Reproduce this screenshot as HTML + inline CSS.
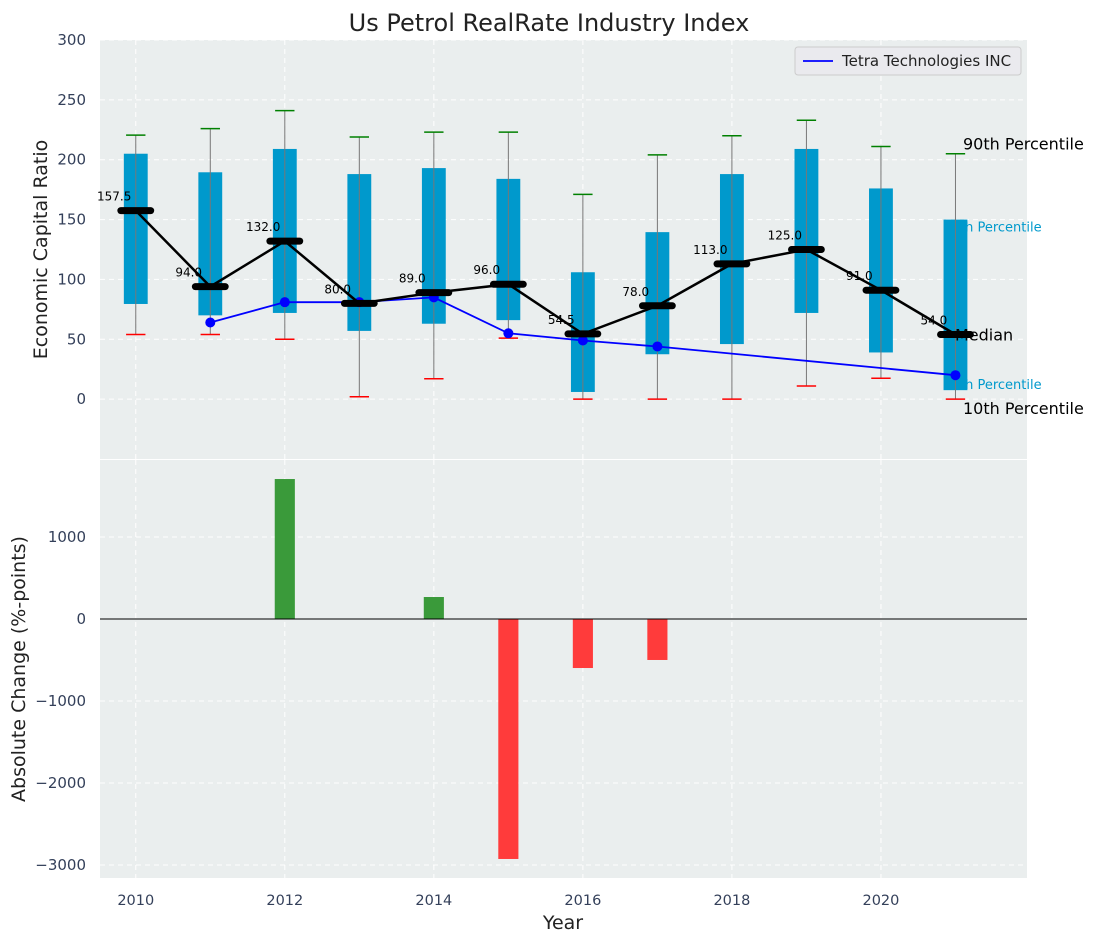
<!DOCTYPE html>
<html><head><meta charset="utf-8">
<style>
body{margin:0;background:#fff;font-family:"Liberation Sans","DejaVu Sans",sans-serif;}
svg text{font-family:"DejaVu Sans","Liberation Sans",sans-serif;}
</style></head>
<body>
<svg id="chart" width="1098" height="942" xmlns="http://www.w3.org/2000/svg">
<text x="549" y="31" text-anchor="middle" font-size="24" fill="#222">Us Petrol RealRate Industry Index</text>
<g id="topPanel"></g>
<g id="botPanel"></g>
</svg>
<script>
const years=[2010,2011,2012,2013,2014,2015,2016,2017,2018,2019,2020,2021];
const p10=[54,54,50,2,17,51,0,0,0,11,17.5,0];
const q1=[79.5,70,72,57,63,66,6,37.5,46,72,39,7.5];
const medians=[157.5,94,132,80,89,96,54.5,78,113,125,91,54];
const q3=[205,189.5,209,188,193,184,106,139.5,188,209,176,150];
const p90=[220.5,226,241,219,223,223,171,204,220,233,211,205];
const tetraYears=[2011,2012,2013,2014,2015,2016,2017,2021];
const tetraVals=[64,81,81,85,55,49,44,20];
const changeYears=[2012,2014,2015,2016,2017];
const changeVals=[1707,268,-2927,-598,-500];
const topTicks=[0,50,100,150,200,250,300];
const botTicks=[-3000,-2000,-1000,0,1000];
const xTicks=[2010,2012,2014,2016,2018,2020];

const NS="http://www.w3.org/2000/svg";
function mk(parent,tag,attrs,text){const e=document.createElementNS(NS,tag);for(const k in attrs)e.setAttribute(k,attrs[k]);if(text!==undefined)e.textContent=text;parent.appendChild(e);return e;}
const L=100,R=1027,X0=2009.52,X1=2021.96;
const x=v=>L+(v-X0)/(X1-X0)*(R-L);
const T0=40,T1=459,TY0=-50,TY1=300;
const yt=v=>T1-(v-TY0)/(TY1-TY0)*(T1-T0);
const B0=460,B1=878,BY0=-3159,BY1=1939;
const yb=v=>B1-(v-BY0)/(BY1-BY0)*(B1-B0);
const topG=document.getElementById('topPanel'),botG=document.getElementById('botPanel');
const tick='#34405a';
let e;

e=mk(topG,'rect',{x:L,y:T0,width:R-L,height:T1-T0,fill:'#eaeeee'});


e=mk(botG,'rect',{x:L,y:B0,width:R-L,height:B1-B0,fill:'#eaeeee'});


xTicks.forEach(t=>{
 mk(topG,'line',{x1:x(t),x2:x(t),y1:T0,y2:T1,stroke:'#fff','stroke-dasharray':'5,4'});
 mk(botG,'line',{x1:x(t),x2:x(t),y1:B0,y2:B1,stroke:'#fff','stroke-dasharray':'5,4'});
 e=mk(botG,'text',{x:x(t),y:905,'text-anchor':'middle','font-size':14.5,fill:tick},t);
 
 
});
topTicks.forEach(t=>{
 mk(topG,'line',{x1:L,x2:R,y1:yt(t),y2:yt(t),stroke:'#fff','stroke-dasharray':'5,4'});
 e=mk(topG,'text',{x:86,y:yt(t)+5,'text-anchor':'end','font-size':15,fill:tick},t);
 
 
});
botTicks.forEach(t=>{
 mk(botG,'line',{x1:L,x2:R,y1:yb(t),y2:yb(t),stroke:'#fff','stroke-dasharray':'5,4'});
 e=mk(botG,'text',{x:86,y:yb(t)+5,'text-anchor':'end','font-size':15,fill:tick},String(t).replace('-','\u2212'));
 
 
});
const last=years.length-1;
e=mk(topG,'text',{x:x(years[last])-12,y:yt(q3[last])+12,'font-size':13,fill:'#0099cc'},'75th Percentile');


e=mk(topG,'text',{x:x(years[last])-12,y:yt(q1[last])-1,'font-size':13,fill:'#0099cc'},'25th Percentile');


years.forEach((yr,i)=>{
 const w=x(yr+0.16)-x(yr-0.16);
 e=mk(topG,'rect',{x:x(yr-0.16),y:yt(q3[i]),width:w,height:yt(q1[i])-yt(q3[i]),fill:'#0099cc'});
 
 
 mk(topG,'line',{x1:x(yr),x2:x(yr),y1:yt(p90[i]),y2:yt(p10[i]),stroke:'#777','stroke-width':1});
 mk(topG,'line',{x1:x(yr-0.13),x2:x(yr+0.13),y1:yt(p90[i]),y2:yt(p90[i]),stroke:'green','stroke-width':1.5});
 mk(topG,'line',{x1:x(yr-0.13),x2:x(yr+0.13),y1:yt(p10[i]),y2:yt(p10[i]),stroke:'red','stroke-width':1.5});
});
let pts=tetraYears.map((yr,i)=>x(yr)+','+yt(tetraVals[i])).join(' ');
e=mk(topG,'polyline',{points:pts,fill:'none',stroke:'blue','stroke-width':1.8});


tetraYears.forEach((yr,i)=>{e=mk(topG,'circle',{cx:x(yr),cy:yt(tetraVals[i]),r:5,fill:'blue'});
 
 });
pts=years.map((yr,i)=>x(yr)+','+yt(medians[i])).join(' ');
e=mk(topG,'polyline',{points:pts,fill:'none',stroke:'#000','stroke-width':2.5});


years.forEach((yr,i)=>{
 e=mk(topG,'line',{x1:x(yr-0.2),x2:x(yr+0.2),y1:yt(medians[i]),y2:yt(medians[i]),stroke:'#000','stroke-width':7,'stroke-linecap':'round'});
 
 
 e=mk(topG,'text',{x:x(yr-0.29),y:yt(medians[i])-10,'text-anchor':'middle','font-size':12,fill:'#000'},medians[i].toFixed(1));
 
 
});
e=mk(topG,'text',{x:963,y:yt(p90[last])-4,'font-size':16,fill:'#000'},'90th Percentile');


e=mk(topG,'text',{x:955,y:yt(medians[last])+6,'font-size':16,fill:'#000'},'Median');


e=mk(topG,'text',{x:963,y:yt(p10[last])+15,'font-size':16,fill:'#000'},'10th Percentile');


const lg=mk(topG,'g',{});


mk(lg,'rect',{x:795,y:47,width:226,height:28,rx:3,fill:'#eaeaee',stroke:'#ccc'});
mk(lg,'line',{x1:803,x2:833,y1:61,y2:61,stroke:'blue','stroke-width':1.8});
mk(lg,'text',{x:842,y:66,'font-size':15,fill:'#222'},'Tetra Technologies INC');
changeYears.forEach((yr,i)=>{
 const v=changeVals[i];
 e=mk(botG,'rect',{x:x(yr-0.135),width:x(yr+0.135)-x(yr-0.135),y:Math.min(yb(v),yb(0)),height:Math.abs(yb(v)-yb(0)),fill:v>=0?'#3a9a3a':'#ff3b3b'});
 
 
});
mk(botG,'line',{x1:L,x2:R,y1:yb(0),y2:yb(0),stroke:'#000','stroke-width':1});
e=mk(topG,'text',{x:0,y:0,transform:'translate(47,'+((T0+T1)/2)+') rotate(-90)','text-anchor':'middle','font-size':19,fill:'#222'},'Economic Capital Ratio');


e=mk(botG,'text',{x:0,y:0,transform:'translate(25,'+((B0+B1)/2)+') rotate(-90)','text-anchor':'middle','font-size':19,fill:'#222'},'Absolute Change (%-points)');


e=mk(botG,'text',{x:563,y:929,'text-anchor':'middle','font-size':19,fill:'#222'},'Year');


</script>
</body></html>
